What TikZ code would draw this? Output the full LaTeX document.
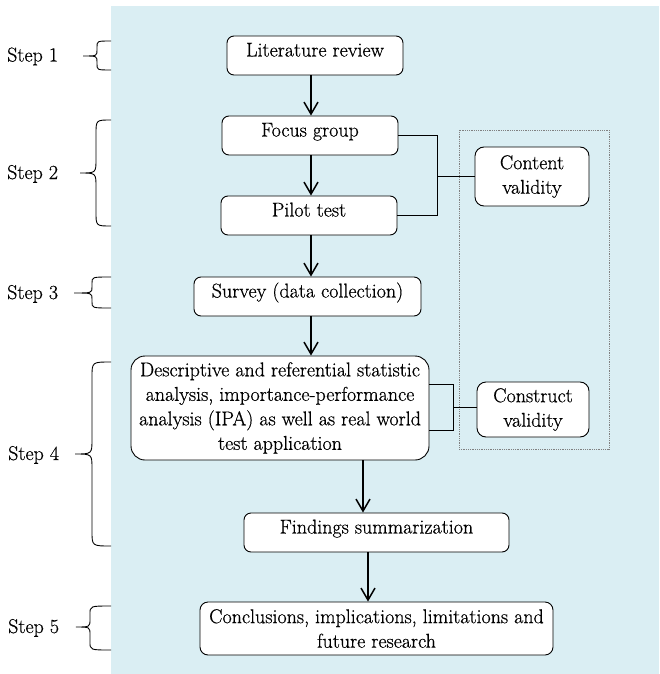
\documentclass[tikz,border=0pt]{standalone}
\usepackage{fontspec}
\setmainfont{Latin Modern Roman}[FakeBold=0.6]
\newfontfamily\tnr{Latin Modern Roman}[FakeBold=0.6]
\usetikzlibrary{arrows.meta}
\definecolor{bgblue}{RGB}{218,238,243}
\newcommand\stepbrace[6]{%
  \draw[bracestyle] (111,#1) .. controls (#4,#1) .. (#4,{#1+#6}) -- (#4,{#3-#6})
    .. controls (#4,#3) .. (#5,#3) .. controls (#4,#3) .. (#4,{#3+#6})
    -- (#4,{#2-#6}) .. controls (#4,#2) .. (111,#2);}
\begin{document}
\begin{tikzpicture}[x=1pt,y=-1pt,
  box/.style={draw=black, line width=0.9pt, fill=white, rounded corners=7pt,
    inner sep=0pt, align=center, font=\tnr\fontsize{20}{24.5}\selectfont},
  onebox/.style={box, text height=14pt, text depth=12pt, minimum height=39pt},
  arr/.style={line width=1.5pt, -{Straight Barb[length=12pt,width=14pt]}},
  conn/.style={line width=0.9pt},
  thickconn/.style={line width=1.8pt},
  bracestyle/.style={line width=0.9pt},
  steplabel/.style={anchor=base west, inner sep=0pt, font=\tnr\fontsize{20}{24}\selectfont},
  dotbox/.style={draw=gray, densely dotted, line width=0.8pt, inner sep=0pt}
]
\useasboundingbox (0,0) rectangle (659,674);
\fill[bgblue] (111,6) rectangle (659,674);

% validity frame
\node[dotbox, minimum width=150pt, minimum height=319pt] (frame) at (534,289.5) {};

% main boxes
\node[onebox, minimum width=176pt] (lit) at (315,55.5) {Literature review};
\node[onebox, minimum width=176pt] (focus) at (310,135.5) {Focus group};
\node[onebox, minimum width=176pt] (pilot) at (309,215.5) {Pilot test};
\node[onebox, minimum width=227pt] (survey) at (307.5,296.5) {Survey (data collection)};
\node[box, rounded corners=14pt, minimum width=298pt, minimum height=104pt] (big) at (280,408)
  {Descriptive and referential statistic\\analysis, importance-performance\\analysis (IPA) as well as real world\\test application};
\node[onebox, minimum width=265pt] (find) at (376.5,532.5) {Findings summarization};
\node[box, rounded corners=8pt, minimum width=353pt, minimum height=53pt] (concl) at (376.5,628.5)
  {Conclusions, implications, limitations and\\future research};
\node[box, rounded corners=9pt, minimum width=114pt, minimum height=59pt] (content) at (532,176.5) {Content\\validity};
\node[box, rounded corners=9pt, minimum width=112pt, minimum height=55pt] (construct) at (533,409.5) {Construct\\validity};

% step labels
\node[steplabel] (s1) at (7,61.5) {Step 1};
\node[steplabel] (s2) at (7,179) {Step 2};
\node[steplabel] (s3) at (7,299) {Step 3};
\node[steplabel] (s4) at (8,460) {Step 4};
\node[steplabel] (s5) at (8,633) {Step 5};

% braces
\stepbrace{41}{70}{56}{97}{83}{6}
\stepbrace{120}{226}{173}{96}{80}{14}
\stepbrace{277}{308}{293}{92}{74}{6}
\stepbrace{362}{546}{454}{92}{75}{15}
\stepbrace{606}{650}{627}{90}{76}{8}

% arrows
\coordinate (ax) at (311,0);
\coordinate (bx) at (363,0);
\coordinate (cx) at (368,0);
\draw[arr] (lit.south -| ax) -- (focus.north -| ax);
\draw[arr] (focus.south -| ax) -- (pilot.north -| ax);
\draw[arr] (pilot.south -| ax) -- (survey.north -| ax);
\draw[arr] (survey.south -| ax) -- (big.north -| ax);
\draw[arr] (big.south -| bx) -- (find.north -| bx);
\draw[arr] (find.south -| cx) -- (concl.north -| cx);

% validity connectors
\coordinate (jx) at (437,176);
\draw[conn] (focus.east) -| (jx |- pilot.east) -- (pilot.east);
\draw[thickconn] (content.west) -- (content.west -| jx);
\coordinate (bigA) at ([yshift=24pt]big.east);
\coordinate (bigB) at ([yshift=-22pt]big.east);
\coordinate (k) at (453,407);
\draw[conn] (bigA) -| (k |- bigB) -- (bigB);
\draw[conn] (k) -- (k -| construct.west);
\end{tikzpicture}
\end{document}
